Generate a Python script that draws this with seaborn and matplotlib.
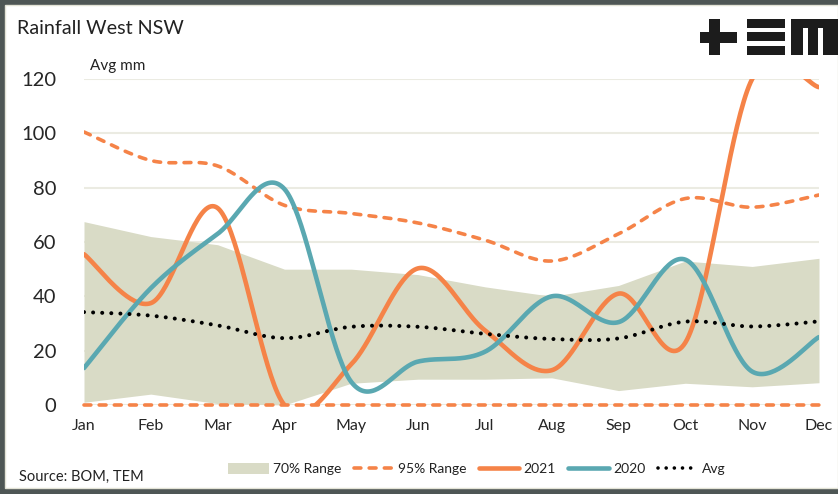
import numpy as np
import pandas as pd
import matplotlib
matplotlib.use("Agg")
import matplotlib.pyplot as plt
import seaborn as sns
from matplotlib.patches import Rectangle, Patch
from matplotlib.lines import Line2D

# ---------------- data ----------------
months = ["Jan", "Feb", "Mar", "Apr", "May", "Jun", "Jul", "Aug", "Sep", "Oct", "Nov", "Dec"]
range70_low = [1, 4, 0.5, 0, 8, 9.5, 9.5, 10, 5.3, 8, 6.7, 8.2]
range70_high = [67.5, 62, 59, 50, 50, 48, 43.5, 40, 44, 53, 51, 54]
range95_low = [0, 0, 0, 0, 0, 0, 0, 0, 0, 0, 0, 0]
range95_high = [100.5, 90, 88, 73.5, 70.5, 67, 60.7, 53, 63, 76, 72.8, 77.3]
y2021 = [55.5, 37.5, 72.5, 0, 15, 50.3, 27.5, 12.8, 41, 23, 120, 117]
y2020 = [13.6, 43, 63, 79.5, 8.5, 16, 19.6, 40, 30.5, 53.5, 12.3, 25]
avg = [34.2, 32.9, 29.3, 24.6, 28.8, 28.8, 26.2, 24.3, 24.5, 30.7, 28.9, 30.8]
y_ticks = [0, 20, 40, 60, 80, 100, 120]

C_ORANGE = "#F58348"
C_TEAL = "#5AA8B1"
C_AREA = "#D9DBC6"
C_GRID = "#EBEBE2"
C_DARK = "#4E5655"

DASH95 = [1.9, 2.3]
DOTS = [0.01, 2.25]


def smooth(vals, n=40):
    """Excel-style smoothed line (cubic Bezier / Catmull-Rom) through the points."""
    p = np.column_stack([np.arange(len(vals), dtype=float), np.asarray(vals, float)])
    xs, ys = [], []
    for i in range(len(p) - 1):
        p0 = p[i - 1] if i > 0 else p[i]
        p1, p2 = p[i], p[i + 1]
        p3 = p[i + 2] if i + 2 < len(p) else p[i + 1]
        b1 = p1 + (p2 - p0) / 6.0
        b2 = p2 - (p3 - p1) / 6.0
        t = np.linspace(0, 1, n, endpoint=(i == len(p) - 2))[:, None]
        seg = ((1 - t) ** 3) * p1 + 3 * ((1 - t) ** 2) * t * b1 + 3 * (1 - t) * t ** 2 * b2 + t ** 3 * p2
        xs.append(seg[:, 0]); ys.append(seg[:, 1])
    return pd.DataFrame({"x": np.concatenate(xs), "y": np.concatenate(ys)})


sns.set_theme(style="white")
plt.rcParams["font.family"] = ["Lato", "DejaVu Sans"]
plt.rcParams["text.color"] = "#222222"

fig = plt.figure(figsize=(8.38, 4.94), dpi=100)
fig.patch.set_facecolor(C_DARK)
W, H = 838.0, 494.0
fig.patches.append(Rectangle((5 / W, 1 - 488 / H), 1 - 5 / W, (488 - 5) / H,
                             transform=fig.transFigure, facecolor="white",
                             edgecolor="#E3E3D6", linewidth=1.0, zorder=-5))

ax = fig.add_axes([84 / W, 1 - 405 / H, (819 - 84) / W, (405 - 79) / H])
ax.set_zorder(2)
ax.set_facecolor("none")
x = np.arange(len(months))

# 70% range area (straight segments)
ax.fill_between(x, range70_low, range70_high, color=C_AREA, linewidth=0, zorder=1)

# 95% range dashed
sns.lineplot(data=smooth(range95_high), x="x", y="y", ax=ax, color=C_ORANGE, linewidth=2.6,
             estimator=None, sort=False, zorder=3)
ax.lines[-1].set_dashes(DASH95)
ax.lines[-1].set_dash_capstyle("round")
sns.lineplot(x=x, y=range95_low, ax=ax, color=C_ORANGE, linewidth=2.6,
             estimator=None, zorder=3)
ax.lines[-1].set_dashes(DASH95)
ax.lines[-1].set_dash_capstyle("round")
ax.lines[-1].set_clip_on(False)

# 2021 and 2020
sns.lineplot(data=smooth(y2021), x="x", y="y", ax=ax, color=C_ORANGE, linewidth=3.3,
             estimator=None, sort=False, zorder=4)
ax.lines[-1].set_solid_capstyle("round")
sns.lineplot(data=smooth(y2020), x="x", y="y", ax=ax, color=C_TEAL, linewidth=3.3,
             estimator=None, sort=False, zorder=5)
ax.lines[-1].set_solid_capstyle("round")

# Avg dotted
sns.lineplot(data=smooth(avg), x="x", y="y", ax=ax, color="black", linewidth=2.9,
             estimator=None, sort=False, zorder=6)
ax.lines[-1].set_dashes(DOTS)
ax.lines[-1].set_dash_capstyle("round")

ax.set_xlim(0, 11)
ax.set_ylim(0, 120)
ax.set_yticks(y_ticks)
ax.set_yticklabels([str(v) for v in y_ticks], fontsize=14.5)
ax.set_xticks(x)
ax.set_xticklabels(months, fontsize=11.5)
ax.tick_params(axis="y", length=0, pad=20)
ax.tick_params(axis="x", length=0, pad=10)
for s in ax.spines.values():
    s.set_visible(False)
ax.grid(axis="y", color=C_GRID, linewidth=1.5, zorder=0)
ax.grid(axis="x", visible=False)
ax.set_axisbelow(True)
ax.set_xlabel("")
ax.set_ylabel("")

# texts
fig.text(17 / W, 1 - 29 / H, "Rainfall West NSW", fontsize=14.2, va="center", ha="left")
fig.text(90 / W, 1 - 66 / H, "Avg mm", fontsize=11, va="center", ha="left")
fig.text(19 / W, 1 - 477 / H, "Source: BOM, TEM", fontsize=10.5, va="center", ha="left")

# logo
def box(x0, y0, x1, y1):
    fig.patches.append(Rectangle((x0 / W, 1 - y1 / H), (x1 - x0) / W, (y1 - y0) / H,
                                 transform=fig.transFigure, facecolor="#1C1C1C",
                                 edgecolor="none", zorder=5))
box(709, 19, 720, 55)
box(700, 32, 737, 43)
box(747, 19, 785, 28)
box(747, 32.5, 785, 41.5)
box(747, 46, 785, 55)
box(791, 19, 838, 28)
box(791, 19, 803, 55)
box(808, 19, 818, 55)
box(823, 19, 838, 55)

# legend
handles = [
    Patch(facecolor=C_AREA, edgecolor="none"),
    Line2D([], [], color=C_ORANGE, lw=2.6, dashes=DASH95, dash_capstyle="round"),
    Line2D([], [], color=C_ORANGE, lw=3.3),
    Line2D([], [], color=C_TEAL, lw=3.3),
    Line2D([], [], color="black", lw=2.6, dashes=DOTS, dash_capstyle="round"),
]
labels = ["70% Range", "95% Range", "2021", "2020", "Avg"]
fig.legend(handles, labels, loc="center", bbox_to_anchor=(477 / W, 1 - 469 / H),
           ncol=5, frameon=False, fontsize=10, handlelength=2.9, handleheight=0.9,
           handletextpad=0.3, columnspacing=0.9)

fig.savefig("out.png", dpi=100, facecolor=fig.get_facecolor())
